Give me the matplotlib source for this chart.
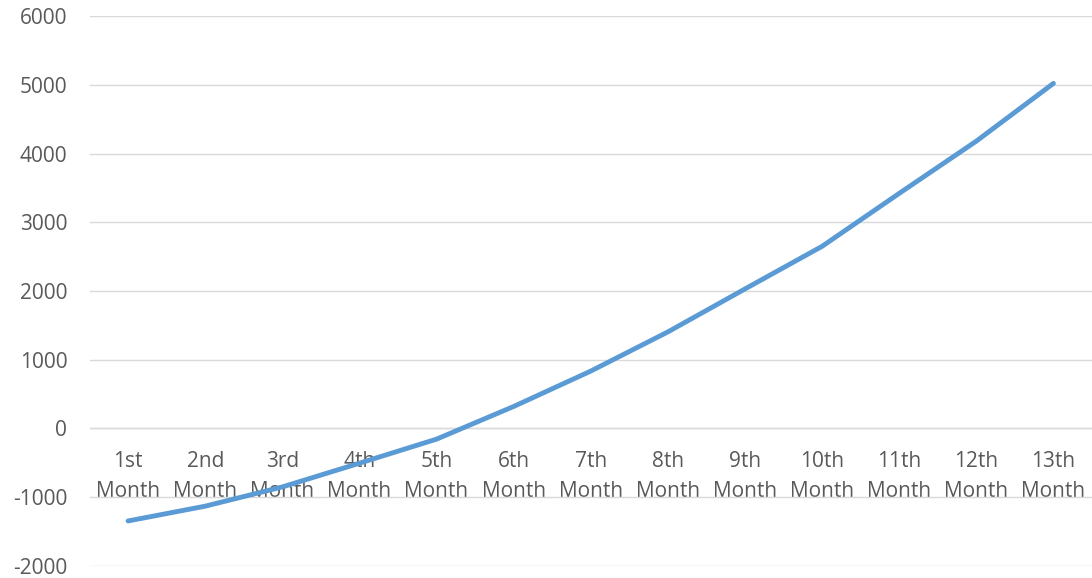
import matplotlib
matplotlib.use("Agg")
import matplotlib.pyplot as plt

months = ["1st\nMonth", "2nd\nMonth", "3rd\nMonth", "4th\nMonth", "5th\nMonth",
          "6th\nMonth", "7th\nMonth", "8th\nMonth", "9th\nMonth", "10th\nMonth",
          "11th\nMonth", "12th\nMonth", "13th\nMonth"]
balance = [-1345, -1130, -850, -505, -155, 320, 835, 1405, 2030, 2650, 3420, 4180, 5020]
y_ticks = [-2000, -1000, 0, 1000, 2000, 3000, 4000, 5000, 6000]

plt.rcParams["font.family"] = ["Open Sans", "DejaVu Sans"]

fig = plt.figure(figsize=(10.92, 5.78), dpi=100)
ax = fig.add_axes([0.082, 0.0208, 0.918, 0.9515])

x = list(range(len(months)))
ax.plot(x, balance, color="#5B9BD5", linewidth=3.5, solid_capstyle="round",
        solid_joinstyle="round", zorder=3)

ax.set_xlim(-0.5, len(months) - 0.5)
ax.set_ylim(-2000, 6000)
ax.set_yticks(y_ticks)
ax.set_yticklabels([str(v) for v in y_ticks])
ax.set_xticks(x)
ax.set_xticklabels(months)

ax.grid(axis="y", color="#D9D9D9", linewidth=1.0, zorder=0)
ax.set_axisbelow(True)

for side in ("top", "right", "left"):
    ax.spines[side].set_visible(False)
ax.spines["bottom"].set_position(("data", 0))
ax.spines["bottom"].set_color("#D9D9D9")
ax.spines["bottom"].set_linewidth(1.0)

ax.tick_params(axis="x", length=0, pad=16, labelsize=15, labelcolor="#595959")
ax.tick_params(axis="y", length=0, pad=16, labelsize=15, labelcolor="#595959")

for lbl in ax.get_xticklabels():
    lbl.set_linespacing(1.6)

fig.savefig("out.png", dpi=100)
